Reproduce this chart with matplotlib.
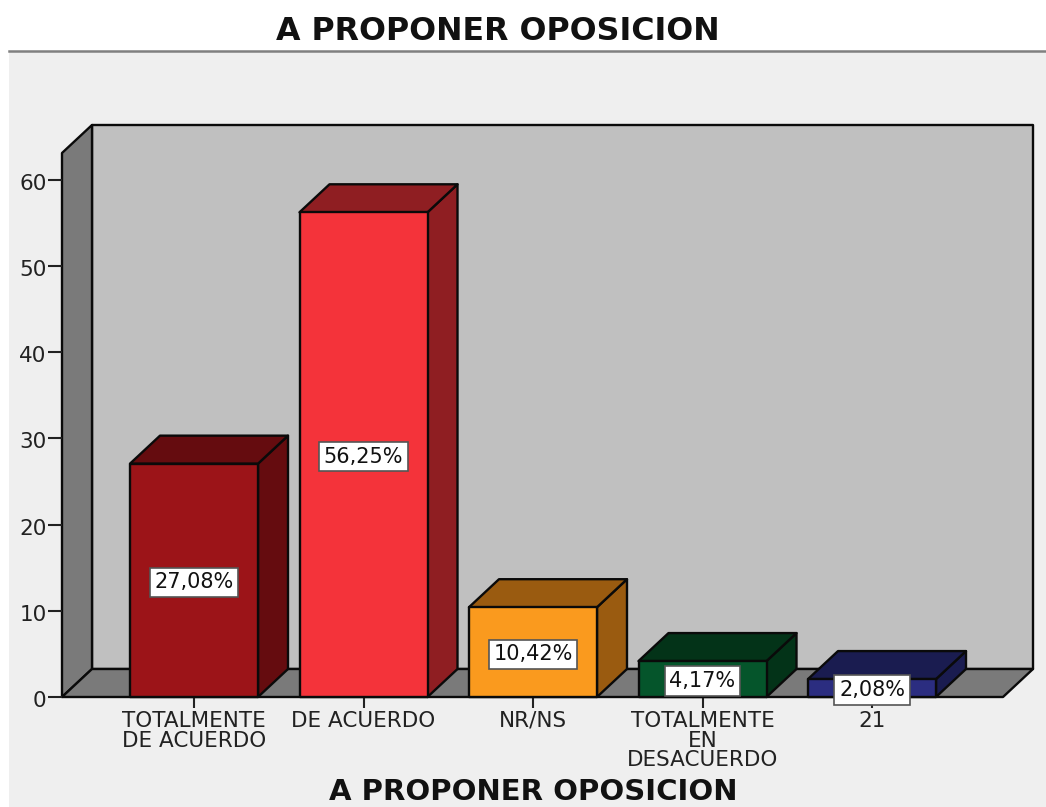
import matplotlib
matplotlib.use("Agg")
import matplotlib.pyplot as plt
from matplotlib.patches import Polygon, Rectangle
from matplotlib.lines import Line2D
from matplotlib.transforms import ScaledTranslation

categories = ["TOTALMENTE\nDE ACUERDO", "DE ACUERDO", "NR/NS", "TOTALMENTE\nEN\nDESACUERDO", "21"]
values = [27.08, 56.25, 10.42, 4.17, 2.08]
labels = ["27,08%", "56,25%", "10,42%", "4,17%", "2,08%"]
front_colors = ["#9c1418", "#f4333a", "#fa9a1e", "#05552b", "#2b2d80"]
side_colors = ["#650c0f", "#8f1e22", "#9a5b10", "#033318", "#1a1c50"]
y_ticks = [0, 10, 20, 30, 40, 50, 60]
title = "A PROPONER OPOSICION"

W, H = 1046, 807
plt.rcParams["font.family"] = ["DejaVu Sans"]
fig = plt.figure(figsize=(W / 100, H / 100), dpi=100, facecolor="white")

fig.add_artist(Rectangle((9 / W, 0), 1 - 9 / W, 1 - 51 / H, transform=fig.transFigure, fc="#efefef", ec="none", zorder=-5))
fig.add_artist(Line2D([9 / W, 1], [1 - 51 / H] * 2, transform=fig.transFigure, color="#808080", lw=1.8))
fig.text(498 / W, 1 - 40 / H, title, ha="center", va="baseline", fontsize=22.8, fontweight="bold", color="#111111")
fig.text(533 / W, 1 - 800 / H, title, ha="center", va="baseline", fontsize=21, fontweight="bold", color="#111111")

L, R, B, T = 62, 1003, 697, 153
ax = fig.add_axes([L / W, 1 - B / H, (R - L) / W, (B - T) / H])
px_x, px_y = 169.5, 8.617
ax.set_xlim((L - 194) / px_x, (R - 194) / px_x)
ax.set_ylim(0, (B - T) / px_y)
ax.patch.set_visible(False)
for s in ax.spines.values():
    s.set_visible(False)

dx, dy = 30 / px_x, 28 / px_y
x0, x1 = ax.get_xlim()
ytop = ax.get_ylim()[1]
edge = dict(ec="#0a0a0a", lw=1.7, clip_on=False, joinstyle="round")
ax.add_patch(Polygon([(x0 + dx, dy), (x1 + dx, dy), (x1 + dx, ytop + dy), (x0 + dx, ytop + dy)], fc="#c0c0c0", zorder=1, **edge))
ax.add_patch(Polygon([(x0, 0), (x0 + dx, dy), (x0 + dx, ytop + dy), (x0, ytop)], fc="#7a7a7a", zorder=1, **edge))
ax.add_patch(Polygon([(x0, 0), (x1, 0), (x1 + dx, dy), (x0 + dx, dy)], fc="#7a7a7a", zorder=1, **edge))

w = 128 / px_x
down = ScaledTranslation(0, -2 / 100, fig.dpi_scale_trans)
for i, (v, fc, sc, lab) in enumerate(zip(values, front_colors, side_colors, labels)):
    a, b = i - w / 2, i + w / 2
    ax.add_patch(Polygon([(b, 0), (b + dx, dy), (b + dx, v + dy), (b, v)], fc=sc, zorder=3, **edge))
    ax.add_patch(Polygon([(a, v), (b, v), (b + dx, v + dy), (a + dx, v + dy)], fc=sc, zorder=3, **edge))
    ax.add_patch(Rectangle((a, 0), w, v, fc=fc, zorder=4, **edge))
    ax.text(i, v / 2, lab, ha="center", va="center", fontsize=15, color="#111111", zorder=6,
            transform=ax.transData + down,
            bbox=dict(boxstyle="square,pad=0.22", fc="white", ec="#555555", lw=1.2))

ax.set_xticks(range(len(categories)))
ax.set_xticklabels(categories, fontsize=15.5, linespacing=0.98, color="#222222")
ax.set_yticks(y_ticks)
ax.set_yticklabels([str(t) for t in y_ticks], fontsize=15.5, color="#222222")
ax.tick_params(axis="x", length=8, width=1.5, pad=2, color="#222222")
ax.tick_params(axis="y", length=10, width=1.5, pad=1, color="#222222")
for lbl in ax.get_yticklabels():
    lbl.set_transform(lbl.get_transform() + down)

fig.savefig("out.png", dpi=100, facecolor=fig.get_facecolor())
